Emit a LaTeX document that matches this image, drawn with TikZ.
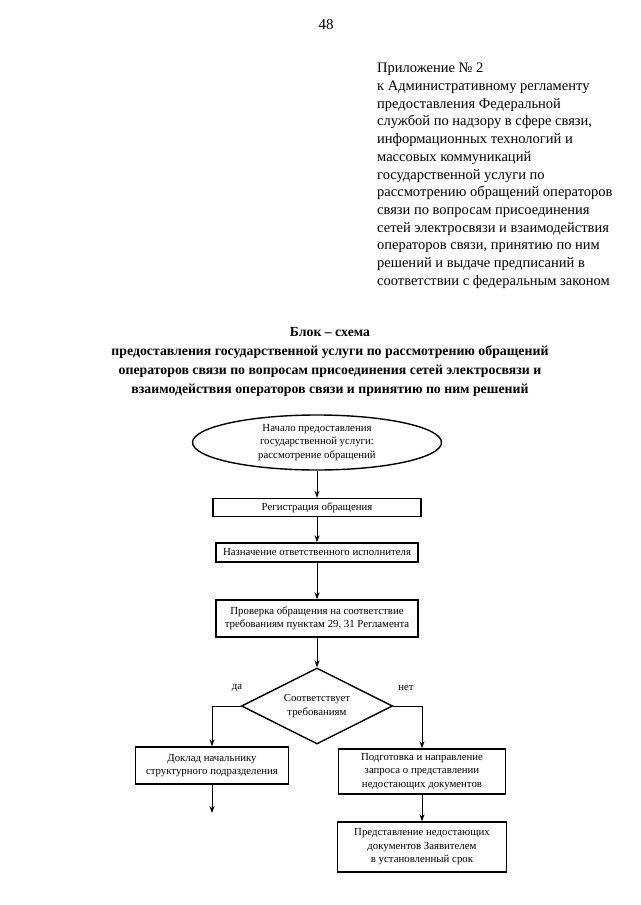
\documentclass[tikz,border=0pt]{standalone}
\usepackage{fontspec}
\setmainfont{Liberation Serif}
\usetikzlibrary{shapes.geometric,arrows.meta}
\begin{document}
\begin{tikzpicture}[x=1pt,y=-1pt,
  box/.style={draw,line width=1.4pt,align=center,inner sep=0pt,font=\fontsize{10.8}{13.5}\selectfont},
  arr/.style={-{Stealth[length=7pt,width=5pt]},line width=0.9pt},
  lbl/.style={font=\fontsize{10.8}{13}\selectfont,inner sep=0pt},
]
\useasboundingbox[fill=white] (0,0) rectangle (640,905);
\node[font=\fontsize{15}{18}\selectfont] (pg) at (326,25) {48};
\node[anchor=north west,align=left,inner sep=0pt,font=\fontsize{14.5}{17.7}\selectfont] (app) at (377,63)
 {Приложение № 2\\
  к Административному регламенту\\
  предоставления Федеральной\\
  службой по надзору в сфере связи,\\
  информационных технологий и\\
  массовых коммуникаций\\
  государственной услуги по\\
  рассмотрению обращений операторов\\
  связи по вопросам присоединения\\
  сетей электросвязи и взаимодействия\\
  операторов связи, принятию по ним\\
  решений и выдаче предписаний в\\
  соответствии с федеральным законом};
\node[align=center,inner sep=0pt,font=\bfseries\fontsize{13.8}{19}\selectfont] (title) at (330,362)
 {Блок – схема\\
  предоставления государственной услуги по рассмотрению обращений\\
  операторов связи по вопросам присоединения сетей электросвязи и\\
  взаимодействия операторов связи и принятию по ним решений};

\node[ellipse,draw,line width=1.4pt,minimum width=249,minimum height=55,inner sep=0pt,align=center,font=\fontsize{10.8}{13.5}\selectfont] (start) at (317,442.5)
 {Начало предоставления\\государственной услуги:\\рассмотрение обращений};
\node[box,minimum width=208,minimum height=18] (reg) at (317,507.5) {Регистрация обращения};
\node[box,minimum width=202,minimum height=19] (nazn) at (317,552.5) {Назначение ответственного исполнителя};
\node[box,minimum width=202,minimum height=37] (prov) at (317,618.5) {Проверка обращения на соответствие\\требованиям пунктам 29, 31 Регламента};
\node[diamond,draw,line width=1.4pt,minimum width=151,minimum height=76,inner sep=0pt,aspect=2,align=center,font=\fontsize{10.8}{14.5}\selectfont] (dec) at (317,706)
 {Соответствует\\требованиям};
\node[box,minimum width=153,minimum height=37] (dokl) at (212,765.5) {Доклад начальнику\\структурного подразделения};
\node[box,minimum width=167,minimum height=45] (podg) at (422,771.5) {Подготовка и направление\\запроса о представлении\\недостающих документов};
\node[box,minimum width=169,minimum height=50] (pred) at (422,847) {Представление недостающих\\документов Заявителем\\в установленный срок};
\node[lbl] (da) at (237,688) {да};
\node[lbl] (net) at (406,688) {нет};
\coordinate (end) at (212,813);

\draw[arr] (start.south) -- (reg.north);
\draw[arr] (reg.south) -- (nazn.north);
\draw[arr] (nazn.south) -- (prov.north);
\draw[arr] (prov.south) -- (dec.north);
\draw[arr] (dec.west) -| (dokl.north);
\draw[arr] (dec.east) -| (podg.north);
\draw[arr] (dokl.south) -- (end);
\draw[arr] (podg.south) -- (pred.north);
\end{tikzpicture}
\end{document}
